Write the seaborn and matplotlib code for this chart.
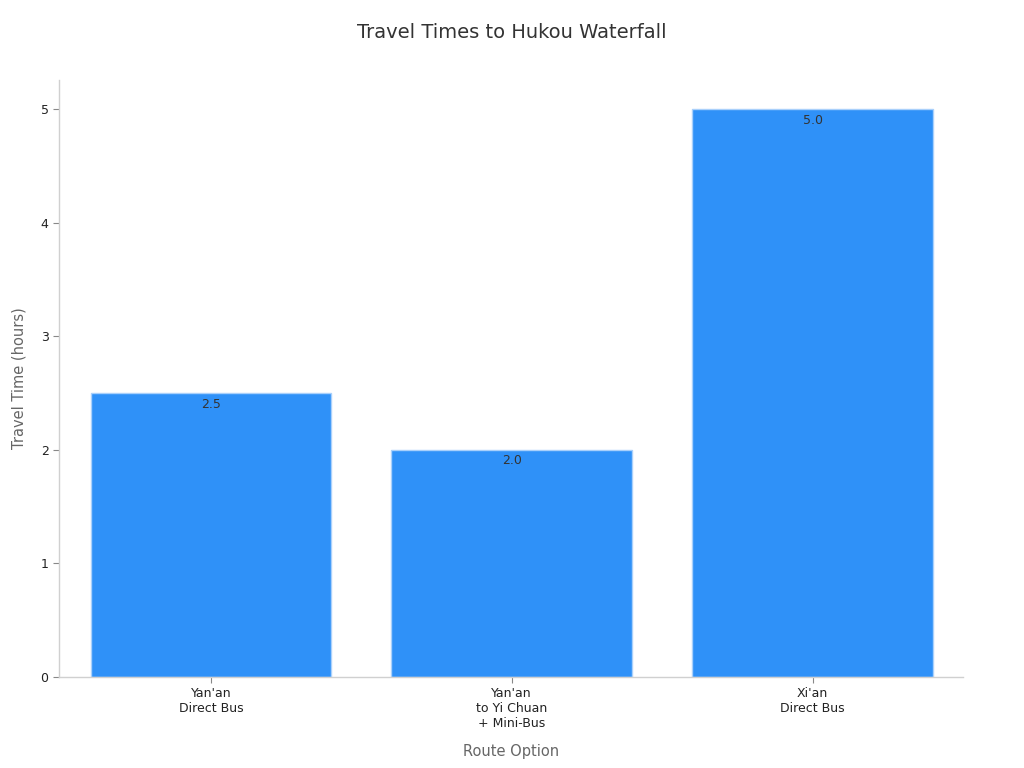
import matplotlib
matplotlib.use("Agg")
import pandas as pd
import seaborn as sns
import matplotlib.pyplot as plt

routes = ["Yan'an\nDirect Bus", "Yan'an\nto Yi Chuan\n+ Mini-Bus", "Xi'an\nDirect Bus"]
hours = [2.5, 2.0, 5.0]

df = pd.DataFrame({"route": routes, "hours": hours})

sns.set_style("white")
plt.rcParams['font.family'] = ['DejaVu Sans']

fig = plt.figure(figsize=(10.24, 7.68), dpi=100)
ax = fig.add_axes([0.0576, 0.1185, 0.8828, 0.7775])

sns.barplot(data=df, x="route", y="hours", color="#2f91f8", saturation=1,
            width=0.8, edgecolor="#a9d0fb", linewidth=1, ax=ax)

# value labels just inside the top of each bar
for p, v in zip(ax.patches, hours):
    ax.text(p.get_x() + p.get_width() / 2, v - 0.04, f"{v:.1f}",
            ha="center", va="top", fontsize=9, color="#333333")

ax.set_xlim(-0.505, 2.5)
ax.set_ylim(0, 5.26)
ax.set_yticks([0, 1, 2, 3, 4, 5])

for s in ["top", "right"]:
    ax.spines[s].set_visible(False)
for s in ["left", "bottom"]:
    ax.spines[s].set_color("#d0d0d0")
    ax.spines[s].set_linewidth(1)

ax.tick_params(axis="both", bottom=True, left=True, labelsize=9,
               labelcolor="#222222", color="#888888", length=4, width=0.8)

ax.set_xlabel("Route Option", fontsize=10.5, color="#666666", labelpad=10)
ax.set_ylabel("Travel Time (hours)", fontsize=10.5, color="#666666", labelpad=10)
fig.suptitle("Travel Times to Hukou Waterfall", fontsize=14, color="#333333", y=0.97)

fig.savefig("out.png", dpi=100)
